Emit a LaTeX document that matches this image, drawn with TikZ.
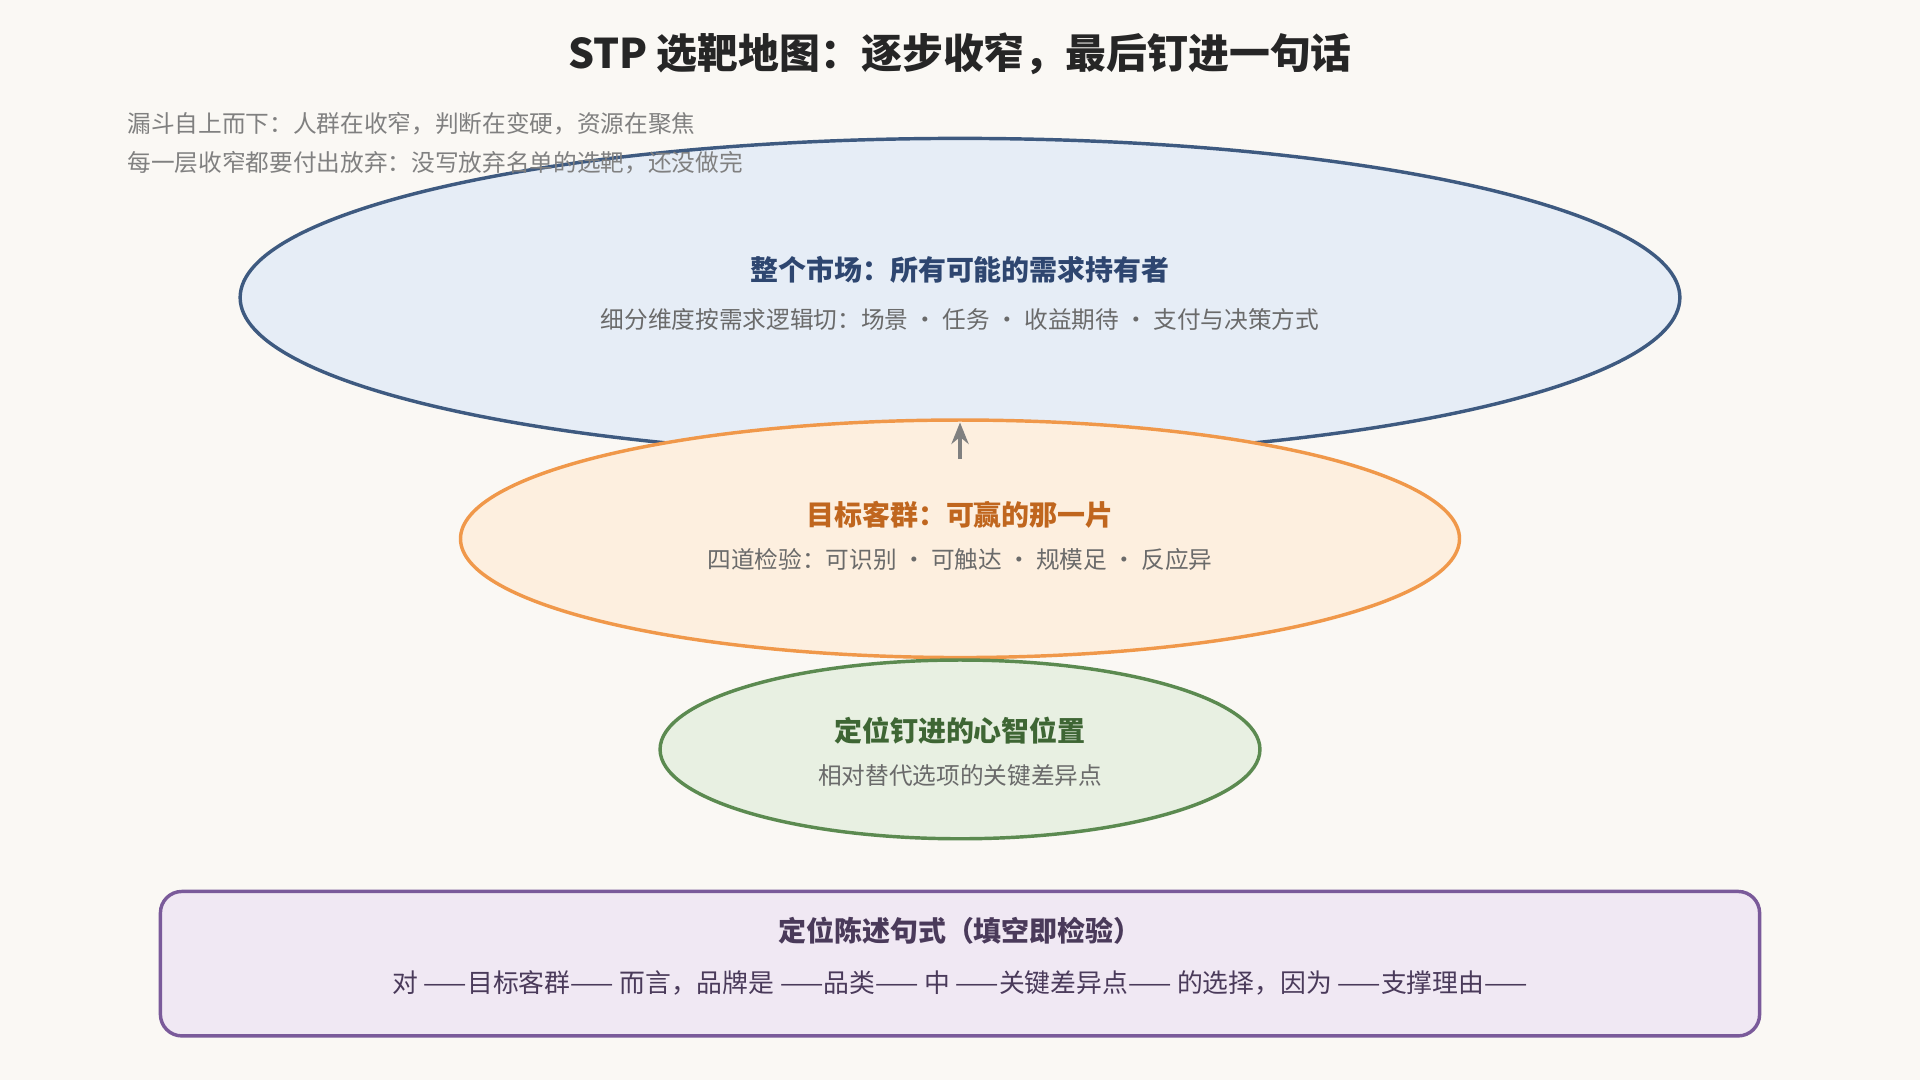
\documentclass[tikz,border=0pt]{standalone}
\usepackage{fontspec}
\setmainfont{Noto Sans CJK SC}
\usetikzlibrary{shapes.geometric,arrows.meta}
\definecolor{bgc}{HTML}{FAF8F4}
\definecolor{mktfill}{HTML}{E6EDF6}\definecolor{mktline}{HTML}{3E5A80}\definecolor{mkttext}{HTML}{2E4670}
\definecolor{tgtfill}{HTML}{FDEFDF}\definecolor{tgtline}{HTML}{F0984A}\definecolor{tgttext}{HTML}{C0661E}
\definecolor{posfill}{HTML}{E8F0E2}\definecolor{posline}{HTML}{5B8A50}\definecolor{postext}{HTML}{3E6634}
\definecolor{stmfill}{HTML}{F0E8F3}\definecolor{stmline}{HTML}{7A5A9A}\definecolor{stmtext}{HTML}{4A3A5A}
\definecolor{subtext}{HTML}{6A6A6A}
\begin{document}
\begin{tikzpicture}[x=0.02cm,y=-0.02cm,
	layer/.style={ellipse,line width=1.6pt,inner sep=0pt},
	head/.style={font=\fontsize{13}{15}\selectfont\bfseries},
	sub/.style={font=\fontsize{11}{13}\selectfont,text=subtext}]
	\tikzset{every node/.append style={anchor=center}}
	\fill[bgc] (0,0) rectangle (1568,882);
	\node[font=\fontsize{19}{22}\selectfont\bfseries,text=black!85] (title) at (784,44) {STP 选靶地图：逐步收窄，最后钉进一句话};
	% three layers of the funnel
	\node[layer,draw=mktline,fill=mktfill,minimum width=1176\pgflinewidth/1.6*0+23.52cm,minimum height=5.2cm] (market) at (784,243) {};
	\node[layer,draw=tgtline,fill=tgtfill,minimum width=16.32cm,minimum height=3.88cm] (target) at (784,440) {};
	\node[layer,draw=posline,fill=posfill,minimum width=9.8cm,minimum height=2.92cm] (position) at (784,612) {};
	\node[head,text=mkttext] (marketA) at (784,220) {整个市场：所有可能的需求持有者};
	\node[sub] (marketB) at (784,261) {细分维度按需求逻辑切：场景 · 任务 · 收益期待 · 支付与决策方式};
	\node[head,text=tgttext] (targetA) at (784,420) {目标客群：可赢的那一片};
	\node[sub] (targetB) at (784,457) {四道检验：可识别 · 可触达 · 规模足 · 反应异};
	\node[head,text=postext] (positionA) at (784,597) {定位钉进的心智位置};
	\node[sub] (positionB) at (784,633) {相对替代选项的关键差异点};
	\coordinate (arrowfoot) at (784,375);
	\coordinate (arrowhead) at (784,345);
	\draw[gray,line width=1.6pt,-{Stealth[length=10pt,width=8pt]}] (arrowfoot) -- (arrowhead);
	% notes
	\node[sub,anchor=west,text=subtext!85] (note1) at (98,101) {漏斗自上而下：人群在收窄，判断在变硬，资源在聚焦};
	\node[sub,anchor=west,text=subtext!85] (note2) at (98,133) {每一层收窄都要付出放弃：没写放弃名单的选靶，还没做完};
	% statement box
	\draw[stmline,fill=stmfill,line width=1.6pt,rounded corners=10pt] (131,728) rectangle (1437,846);
	\node[head,text=stmtext] (stmA) at (784,760) {定位陈述句式（填空即检验）};
	\node[font=\fontsize{12}{14}\selectfont,text=stmtext] (stmB) at (784,803) {对 ——目标客群—— 而言，品牌是 ——品类—— 中 ——关键差异点—— 的选择，因为 ——支撑理由——};
\end{tikzpicture}
\end{document}
